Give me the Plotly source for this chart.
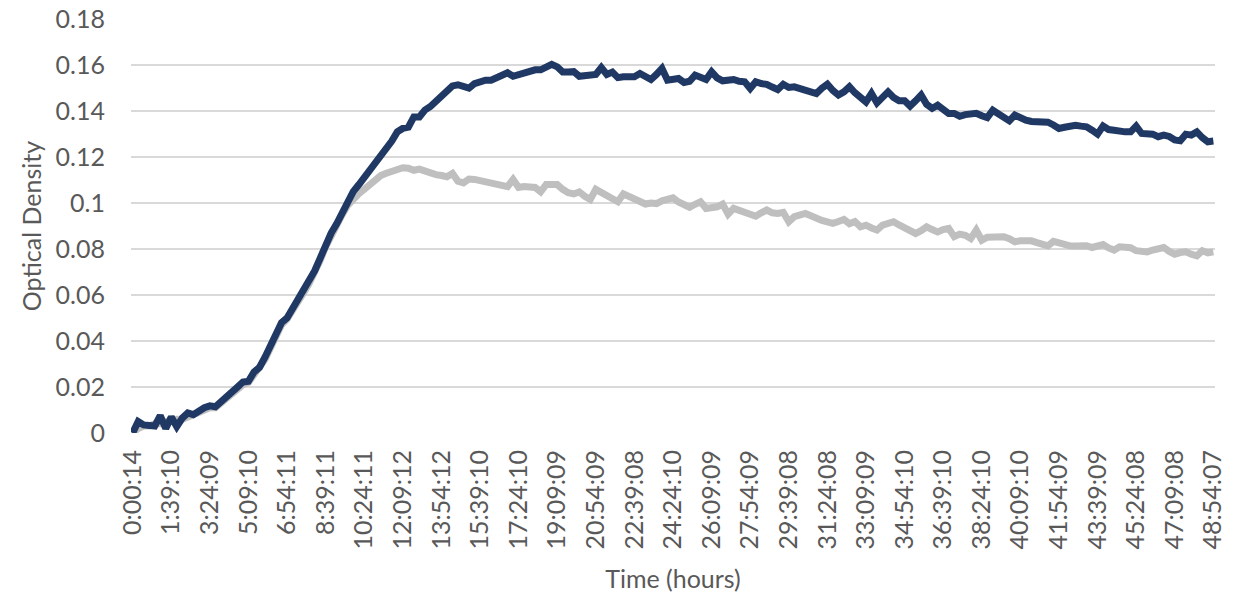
import plotly.graph_objects as go

tick_labels = ["0:00:14", "1:39:10", "3:24:09", "5:09:10", "6:54:11", "8:39:11", "10:24:11",
               "12:09:12", "13:54:12", "15:39:10", "17:24:10", "19:09:09", "20:54:09", "22:39:08",
               "24:24:10", "26:09:09", "27:54:09", "29:39:08", "31:24:08", "33:09:09", "34:54:10",
               "36:39:10", "38:24:10", "40:09:10", "41:54:09", "43:39:09", "45:24:08", "47:09:08",
               "48:54:07"]

series_blue = [
    0.000, 0.005, 0.0035, 0.003, 0.003, 0.0075, 0.002, 0.007, 0.0028, 0.0065,
    0.0087, 0.008, 0.0097, 0.011, 0.0118, 0.0114, 0.0135, 0.016, 0.0178, 0.020,
    0.0222, 0.0225, 0.0265, 0.0285, 0.033, 0.038, 0.043, 0.048, 0.050, 0.054,
    0.058, 0.062, 0.066, 0.0705, 0.076, 0.082, 0.087, 0.091, 0.096, 0.100,
    0.105, 0.108, 0.111, 0.114, 0.118, 0.121, 0.124, 0.127, 0.131, 0.1325,
    0.133, 0.1375, 0.1375, 0.1405, 0.142, 0.1445, 0.1465, 0.149, 0.151, 0.1515,
    0.1505, 0.150, 0.152, 0.153, 0.1535, 0.1535, 0.1545, 0.155, 0.1567, 0.1552,
    0.156, 0.157, 0.158, 0.158, 0.158, 0.159, 0.1604, 0.1593, 0.157, 0.157,
    0.1572, 0.1552, 0.1555, 0.1557, 0.156, 0.159, 0.156, 0.157, 0.1546, 0.155,
    0.1549, 0.155, 0.1564, 0.155, 0.1538, 0.156, 0.1586, 0.1535, 0.154, 0.1542,
    0.1525, 0.153, 0.1557, 0.1545, 0.1538, 0.1571, 0.1545, 0.1532, 0.1535, 0.1538,
    0.153, 0.1528, 0.1499, 0.1528, 0.152, 0.1517, 0.1505, 0.1494, 0.1517, 0.1503,
    0.1506, 0.150, 0.1491, 0.1485, 0.1477, 0.150, 0.1517, 0.149, 0.147, 0.1484,
    0.1506, 0.148, 0.1455, 0.144, 0.1477, 0.1436, 0.146, 0.1484, 0.146, 0.1445,
    0.1445, 0.1422, 0.1445, 0.147, 0.143, 0.1412, 0.1426, 0.141, 0.139, 0.139,
    0.1378, 0.1385, 0.139, 0.1391, 0.138, 0.1372, 0.1404, 0.139, 0.1375, 0.1358,
    0.1383, 0.137, 0.1361, 0.1355, 0.1354, 0.1358, 0.1352, 0.134, 0.1325, 0.133,
    0.1335, 0.1339, 0.1335, 0.1332, 0.1317, 0.130, 0.1335, 0.132, 0.1317, 0.131,
    0.131, 0.131, 0.1335, 0.1303, 0.130, 0.130, 0.1289, 0.1296, 0.129, 0.1275,
    0.1271, 0.130, 0.1296, 0.131, 0.1285, 0.1267, 0.127
]

series_gray = [
    0.000, 0.002, 0.003, 0.003, 0.004, 0.004, 0.005, 0.005, 0.006, 0.006,
    0.007, 0.008, 0.009, 0.010, 0.011, 0.011, 0.013, 0.015, 0.017, 0.019,
    0.021, 0.022, 0.025, 0.028, 0.032, 0.037, 0.042, 0.047, 0.0495, 0.053,
    0.057, 0.061, 0.065, 0.0695, 0.075, 0.081, 0.086, 0.090, 0.095, 0.099,
    0.102, 0.104, 0.106, 0.108, 0.110, 0.112, 0.113, 0.114, 0.1148, 0.1154,
    0.1152, 0.1143, 0.1148, 0.1138, 0.1128, 0.1124, 0.112, 0.1115, 0.1129, 0.1095,
    0.1088, 0.1105, 0.1103, 0.1098, 0.1093, 0.1085, 0.1082, 0.1078, 0.1072, 0.1103,
    0.1068, 0.1072, 0.1071, 0.1068, 0.1049, 0.1081, 0.1081, 0.1081, 0.106, 0.1045,
    0.104, 0.1049, 0.103, 0.1016, 0.106, 0.1045, 0.103, 0.1015, 0.1006, 0.104,
    0.103, 0.102, 0.1008, 0.0996, 0.100, 0.0998, 0.101, 0.1016, 0.1023, 0.1005,
    0.099, 0.0982, 0.0995, 0.1006, 0.0977, 0.098, 0.0984, 0.0996, 0.0952, 0.0977,
    0.097, 0.0962, 0.0952, 0.0943, 0.0958, 0.097, 0.0958, 0.0955, 0.096, 0.0919,
    0.0941, 0.0948, 0.0955, 0.0945, 0.0933, 0.0925, 0.0918, 0.0912, 0.092, 0.0929,
    0.091, 0.092, 0.0897, 0.0904, 0.0892, 0.0883, 0.0904, 0.091, 0.0919, 0.0905,
    0.089, 0.088, 0.0868, 0.088, 0.0897, 0.0885, 0.0875, 0.0885, 0.089, 0.0854,
    0.0865, 0.086, 0.0846, 0.0883, 0.0839, 0.0852, 0.0855, 0.0855, 0.0854, 0.0845,
    0.0832, 0.0836, 0.0839, 0.0836, 0.0828, 0.0817, 0.0814, 0.0834, 0.0825, 0.0817,
    0.0814, 0.0813, 0.0814, 0.0815, 0.0807, 0.0812, 0.082, 0.0805, 0.0796, 0.081,
    0.0808, 0.0806, 0.0793, 0.079, 0.0788, 0.0796, 0.0802, 0.0807, 0.079, 0.0778,
    0.0785, 0.0788, 0.0778, 0.0771, 0.0793, 0.0784, 0.0788
]

y_ticks = [0, 0.02, 0.04, 0.06, 0.08, 0.10, 0.12, 0.14, 0.16, 0.18]
y_tick_text = ["0", "0.02", "0.04", "0.06", "0.08", "0.1", "0.12", "0.14", "0.16", "0.18"]

label_step = 7
x_idx = list(range(len(series_blue)))
tick_vals = [i * label_step for i in range(len(tick_labels))]

FONT = "Lato, 'Open Sans', sans-serif"
TXT = "#595959"
FS = 25

fig = go.Figure()
fig.add_trace(go.Scatter(x=x_idx, y=series_gray, mode="lines",
                         line=dict(color="#BFBFBF", width=7), showlegend=False))
fig.add_trace(go.Scatter(x=x_idx, y=series_blue, mode="lines",
                         line=dict(color="#1F3864", width=7), showlegend=False))

fig.update_layout(
    width=1245, height=593,
    margin=dict(l=131, r=30, t=19, b=160, autoexpand=False),
    paper_bgcolor="white", plot_bgcolor="white",
    font=dict(family=FONT, color=TXT, size=FS),
    xaxis=dict(
        range=[-0.3, len(series_blue) - 1 + 0.3],
        tickmode="array", tickvals=tick_vals, ticktext=tick_labels,
        tickangle=-90, showgrid=False, zeroline=False,
        showline=False, ticks="", ticklabelstandoff=11,
        tickfont=dict(size=FS, color=TXT, family=FONT),
        title=dict(text="Time (hours)", font=dict(size=FS, color=TXT, family=FONT), standoff=22),
        automargin=False,
    ),
    yaxis=dict(
        range=[0, 0.1801], tickmode="array",
        tickvals=y_ticks, ticktext=y_tick_text,
        showgrid=True, gridcolor="#D9D9D9", gridwidth=2, zeroline=False,
        showline=False, ticks="", ticklabelstandoff=25,
        tickfont=dict(size=FS, color=TXT, family=FONT),
        title=dict(text="Optical Density", font=dict(size=FS, color=TXT, family=FONT), standoff=6),
        automargin=False,
    ),
)

fig.write_html("out.html", config={"displayModeBar": False},
               post_script="document.body.style.margin='0';")
